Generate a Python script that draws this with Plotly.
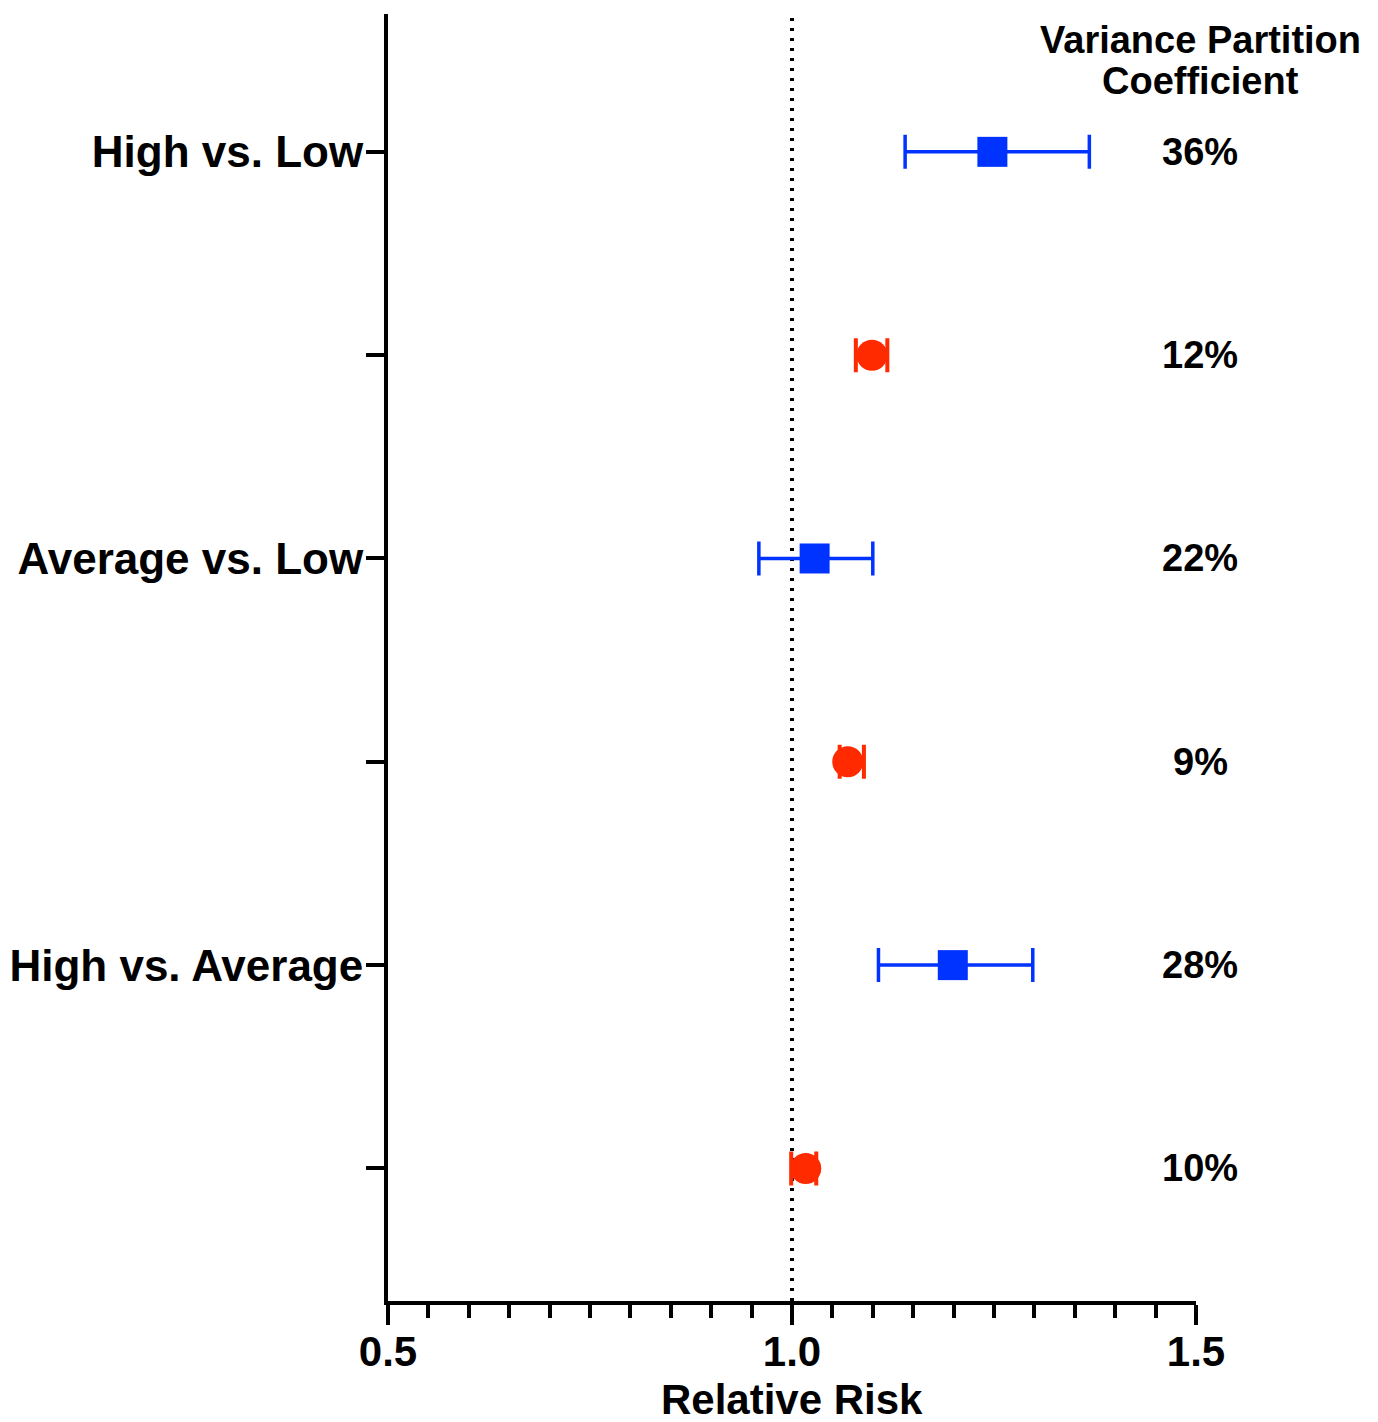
import plotly.graph_objects as go

# Data
rows = [1, 2, 3, 4, 5, 6]
row_labels = ["High vs. Low", "", "Average vs. Low", "", "High vs. Average", ""]
blue_rows = [1, 3, 5]
blue_rr = [1.248, 1.028, 1.199]
blue_lo = [1.140, 0.959, 1.107]
blue_hi = [1.368, 1.100, 1.298]
red_rows = [2, 4, 6]
red_rr = [1.099, 1.069, 1.017]
red_lo = [1.079, 1.059, 0.999]
red_hi = [1.118, 1.089, 1.030]
vpc_labels = ["36%", "12%", "22%", "9%", "28%", "10%"]
header_lines = ["Variance Partition", "Coefficient"]
x_title = "Relative Risk"

BLUE = "#0033FF"
RED = "#FF2A00"
FONT = "Liberation Sans"

fig = go.Figure()

# reference line at RR = 1
fig.add_shape(type="line", xref="x", yref="paper", x0=1.0, x1=1.0, y0=0, y1=1,
              line=dict(color="black", width=4, dash="3px,7px"), layer="below")

fig.add_trace(go.Scatter(
    x=blue_rr, y=blue_rows, mode="markers",
    marker=dict(symbol="square", size=30, color=BLUE),
    error_x=dict(type="data", symmetric=False,
                 array=[h - m for h, m in zip(blue_hi, blue_rr)],
                 arrayminus=[m - l for m, l in zip(blue_rr, blue_lo)],
                 color=BLUE, thickness=3.5, width=17),
    showlegend=False, cliponaxis=False))

fig.add_trace(go.Scatter(
    x=red_rr, y=red_rows, mode="markers",
    marker=dict(symbol="circle", size=31, color=RED),
    error_x=dict(type="data", symmetric=False,
                 array=[h - m for h, m in zip(red_hi, red_rr)],
                 arrayminus=[m - l for m, l in zip(red_rr, red_lo)],
                 color=RED, thickness=4, width=17),
    showlegend=False, cliponaxis=False))

for r, lab in zip(rows, vpc_labels):
    fig.add_annotation(x=1.005, xref="paper", y=r, yref="y", text=lab,
                       showarrow=False, xanchor="center", yanchor="middle",
                       font=dict(family=FONT, size=38, color="black", weight="bold"))

for i, line in enumerate(header_lines):
    fig.add_annotation(x=1.005, xref="paper", y=1, yref="paper", yshift=-26 - 41 * i,
                       text=line, showarrow=False, xanchor="center", yanchor="middle",
                       font=dict(family=FONT, size=38, color="black", weight="bold"))

fig.add_annotation(x=0.5, xref="paper", y=0, yref="paper", yshift=-98,
                   text=x_title, showarrow=False, xanchor="center", yanchor="middle",
                   font=dict(family=FONT, size=42, color="black", weight="bold"))

fig.update_layout(
    width=1370, height=1414,
    margin=dict(l=380, r=182, t=6, b=121),
    plot_bgcolor="white", paper_bgcolor="white",
    xaxis=dict(range=[0.5, 1.5], tickvals=[0.5, 1.0, 1.5], ticktext=["0.5", "1.0", "1.5"],
               ticks="outside", ticklen=20, tickwidth=4, tickcolor="black",
               minor=dict(dtick=0.05, ticks="outside", ticklen=13, tickwidth=4, tickcolor="black", showgrid=False),
               showline=True, linewidth=4, linecolor="black", showgrid=False, zeroline=False,
               automargin=False, ticklabelstandoff=-9,
               tickfont=dict(family=FONT, size=42, color="black", weight="bold")),
    yaxis=dict(range=[6.652, 0.322], tickvals=rows, ticktext=row_labels,
               ticks="outside", ticklen=18, tickwidth=4, tickcolor="black",
               showline=True, linewidth=4, linecolor="black", showgrid=False, zeroline=False,
               automargin=False, ticklabelstandoff=-6,
               tickfont=dict(family=FONT, size=44, color="black", weight="bold")),
)

fig.write_html("out.html")
